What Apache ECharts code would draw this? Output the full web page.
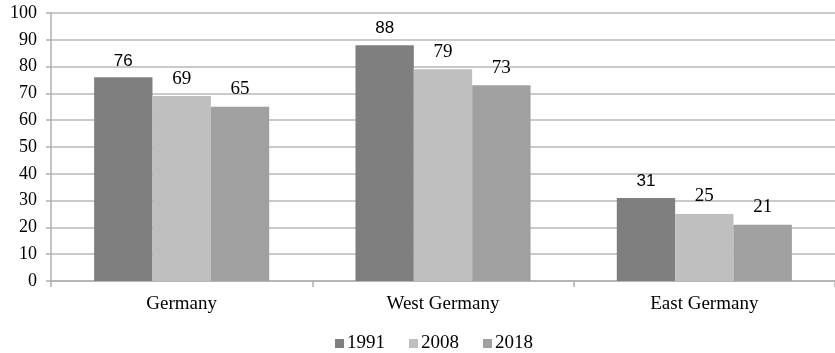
<!DOCTYPE html>
<html>
<head>
<meta charset="utf-8">
<script src="https://cdn.jsdelivr.net/npm/echarts@6/dist/echarts.min.js"></script>
<style>
  html, body { margin: 0; padding: 0; background: #fff; }
  #chart { width: 835px; height: 353px; }
</style>
</head>
<body>
<div id="chart"></div>
<script>
// Regions and survey years
const categories = ['Germany', 'West Germany', 'East Germany'];
const years = ['1991', '2008', '2018'];
const values1991 = [76, 88, 31];
const values2008 = [69, 79, 25];
const values2018 = [65, 73, 21];
const yTicks = [0, 10, 20, 30, 40, 50, 60, 70, 80, 90, 100];

const serif = '"Liberation Serif", "DejaVu Serif", serif';
const sans = '"Liberation Sans", "DejaVu Sans", sans-serif';
const colors = ['#7f7f7f', '#bfbfbf', '#a0a0a0'];
const seriesData = [values1991, values2008, values2018];

const chart = echarts.init(document.getElementById('chart'));
chart.setOption({
  animation: false,
  color: colors,
  grid: { left: 51, right: -2, top: 13, bottom: 72, containLabel: false },
  legend: {
    bottom: -5,
    left: 330,
    itemWidth: 9,
    itemHeight: 9,
    itemGap: 24,
    icon: 'rect',
    textStyle: { fontFamily: serif, fontSize: 19, color: '#000', padding: [0, 0, 0, -2] },
    data: years
  },
  xAxis: {
    type: 'category',
    data: categories,
    axisLine: { lineStyle: { color: '#b0b0b0', width: 1.5 } },
    axisTick: { show: true, length: 6, lineStyle: { color: '#b0b0b0', width: 1.5 } },
    axisLabel: { fontFamily: serif, fontSize: 19, color: '#000', margin: 14 }
  },
  yAxis: {
    type: 'value',
    min: yTicks[0],
    max: yTicks[yTicks.length - 1],
    interval: 10,
    axisLine: { show: true, lineStyle: { color: '#b0b0b0', width: 1.5 } },
    axisTick: { show: true, length: 5, lineStyle: { color: '#b0b0b0', width: 1.5 } },
    splitLine: { lineStyle: { color: '#b8b8b8', width: 1.5 } },
    axisLabel: { fontFamily: serif, fontSize: 18, color: '#000', margin: 14 }
  },
  series: years.map((y, i) => ({
    name: y,
    type: 'bar',
    data: seriesData[i],
    barGap: '0%',
    barCategoryGap: '33%',
    label: {
      show: true,
      position: 'top',
      distance: 8,
      fontFamily: i === 0 ? sans : serif,
      fontSize: i === 0 ? 17 : 19,
      color: '#000'
    }
  }))
});
</script>
</body>
</html>
